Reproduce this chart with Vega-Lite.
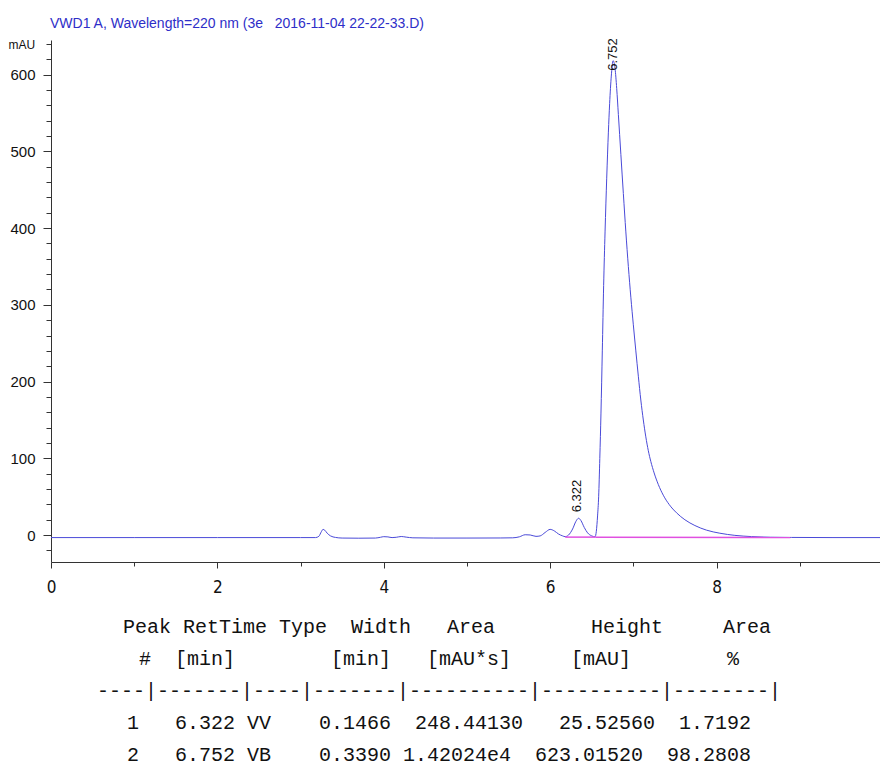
{
  "$schema": "https://vega.github.io/schema/vega-lite/v6.json",
  "width": 829,
  "height": 522,
  "autosize": {"type": "none"},
  "padding": {"left": 51, "top": 40, "right": 0, "bottom": 209},
  "background": "white",
  "title": {
    "text": "VWD1 A, Wavelength=220 nm (3e\u00a0\u00a0\u00a02016-11-04 22-22-33.D)",
    "anchor": "start",
    "frame": "group",
    "font": "Liberation Sans",
    "fontSize": 14,
    "fontWeight": "normal",
    "color": "#2e2ec8",
    "offset": 6,
    "dx": -1
  },
  "config": {"view": {"stroke": null}},
  "datasets": {
    "trace": [
      {"t": 0, "v": -3.2}, {"t": 1, "v": -3.2}, {"t": 2, "v": -3.2}, {"t": 3, "v": -3.2},
      {"t": 3.18, "v": -3.2}, {"t": 3.22, "v": -1.5}, {"t": 3.25, "v": 4.5}, {"t": 3.27, "v": 7.5},
      {"t": 3.29, "v": 6.5}, {"t": 3.32, "v": 2.5}, {"t": 3.36, "v": -1.0}, {"t": 3.42, "v": -3.0},
      {"t": 3.5, "v": -3.8}, {"t": 3.7, "v": -4.0}, {"t": 3.9, "v": -3.8}, {"t": 3.96, "v": -2.8},
      {"t": 4.0, "v": -2.0}, {"t": 4.05, "v": -2.3}, {"t": 4.1, "v": -3.2}, {"t": 4.15, "v": -2.8},
      {"t": 4.21, "v": -1.8}, {"t": 4.27, "v": -2.6}, {"t": 4.35, "v": -3.5}, {"t": 4.6, "v": -3.8},
      {"t": 5.0, "v": -3.8}, {"t": 5.4, "v": -3.7}, {"t": 5.55, "v": -3.5}, {"t": 5.63, "v": -2.2},
      {"t": 5.7, "v": 0.5}, {"t": 5.76, "v": 0.2}, {"t": 5.83, "v": -1.6}, {"t": 5.88, "v": -1.0},
      {"t": 5.94, "v": 3.5}, {"t": 6.0, "v": 7.5}, {"t": 6.05, "v": 5.5}, {"t": 6.1, "v": 1.5},
      {"t": 6.15, "v": -1.0}, {"t": 6.18, "v": -2.0}, {"t": 6.22, "v": 0.0}, {"t": 6.27, "v": 8.0},
      {"t": 6.31, "v": 18.0}, {"t": 6.342, "v": 22.0}, {"t": 6.37, "v": 19.0}, {"t": 6.41, "v": 10.0},
      {"t": 6.45, "v": 3.0}, {"t": 6.5, "v": -1.0}, {"t": 6.54, "v": -2.2}, {"t": 6.555, "v": 5},
      {"t": 6.57, "v": 25}, {"t": 6.583, "v": 50}, {"t": 6.597, "v": 100}, {"t": 6.611, "v": 159},
      {"t": 6.627, "v": 240}, {"t": 6.643, "v": 325}, {"t": 6.66, "v": 395}, {"t": 6.68, "v": 465},
      {"t": 6.7, "v": 525}, {"t": 6.715, "v": 562}, {"t": 6.735, "v": 598}, {"t": 6.757, "v": 618},
      {"t": 6.78, "v": 608}, {"t": 6.8, "v": 582}, {"t": 6.82, "v": 548}, {"t": 6.85, "v": 496},
      {"t": 6.88, "v": 445}, {"t": 6.91, "v": 395}, {"t": 6.94, "v": 350}, {"t": 6.97, "v": 310},
      {"t": 7.0, "v": 274}, {"t": 7.03, "v": 240}, {"t": 7.06, "v": 207}, {"t": 7.09, "v": 176},
      {"t": 7.12, "v": 150}, {"t": 7.15, "v": 128}, {"t": 7.18, "v": 110}, {"t": 7.21, "v": 96},
      {"t": 7.25, "v": 81}, {"t": 7.3, "v": 66}, {"t": 7.36, "v": 52}, {"t": 7.43, "v": 40},
      {"t": 7.52, "v": 29}, {"t": 7.62, "v": 20}, {"t": 7.74, "v": 12.5}, {"t": 7.88, "v": 6.5},
      {"t": 8.04, "v": 2.5}, {"t": 8.22, "v": -0.3}, {"t": 8.42, "v": -1.9}, {"t": 8.65, "v": -2.7},
      {"t": 8.9, "v": -3.0}, {"t": 9.4, "v": -3.2}, {"t": 9.965, "v": -3.2}
    ],
    "baseline": [
      {"t": 6.182, "v": -2.6, "t2": 6.543, "v2": -2.6},
      {"t": 6.543, "v": -2.6, "t2": 8.887, "v2": -3.2}
    ],
    "marks": [{"t": 6.182}, {"t": 6.543}, {"t": 8.887}],
    "peaks": [
      {"t": 6.322, "v": 22, "label": "6.322"},
      {"t": 6.752, "v": 618, "label": "6.752"}
    ],
    "table": [
      {"line": 1, "text": "Peak\u00a0RetTime\u00a0Type\u00a0\u00a0Width\u00a0\u00a0\u00a0Area\u00a0\u00a0\u00a0\u00a0\u00a0\u00a0\u00a0\u00a0Height\u00a0\u00a0\u00a0\u00a0\u00a0Area\u00a0\u00a0\u00a0"},
      {"line": 2, "text": "\u00a0\u00a0\u00a0#\u00a0\u00a0[min]\u00a0\u00a0\u00a0\u00a0\u00a0\u00a0\u00a0\u00a0[min]\u00a0\u00a0\u00a0[mAU*s]\u00a0\u00a0\u00a0\u00a0\u00a0[mAU]\u00a0\u00a0\u00a0\u00a0\u00a0\u00a0\u00a0\u00a0%\u00a0\u00a0\u00a0\u00a0"},
      {"line": 3, "text": "----|-------|----|-------|----------|----------|--------|"},
      {"line": 4, "text": "\u00a0\u00a0\u00a01\u00a0\u00a0\u00a06.322\u00a0VV\u00a0\u00a0\u00a0\u00a00.1466\u00a0\u00a0248.44130\u00a0\u00a0\u00a025.52560\u00a0\u00a01.7192\u00a0\u00a0"},
      {"line": 5, "text": "\u00a0\u00a0\u00a02\u00a0\u00a0\u00a06.752\u00a0VB\u00a0\u00a0\u00a0\u00a00.3390\u00a01.42024e4\u00a0\u00a0623.01520\u00a0\u00a098.2808\u00a0\u00a0"}
    ]
  },
  "layer": [
    {
      "encoding": {
        "x": {
          "field": "t",
          "type": "quantitative",
          "scale": {"domain": [0, 9.965], "nice": false, "zero": false},
          "axis": {
            "title": null,
            "grid": false,
            "values": [0, 0.5, 1, 1.5, 2, 2.5, 3, 3.5, 4, 4.5, 5, 5.5, 6, 6.5, 7, 7.5, 8, 8.5, 9, 9.5],
            "format": "d",
            "labelExpr": "datum.value % 2 === 0 ? datum.label : ''",
            "labelFlush": false,
            "labelOverlap": false,
            "tickSize": {"condition": {"test": "datum.value % 2 === 0", "value": 6}, "value": 4},
            "tickColor": "#333333",
            "domainColor": "#333333",
            "labelFont": "DejaVu Sans Condensed",
            "labelFontSize": 17,
            "labelColor": "#111111",
            "labelPadding": 11,
            "labelBaseline": "top"
          }
        },
        "y": {
          "field": "v",
          "type": "quantitative",
          "scale": {"domain": [-35, 645], "nice": false, "zero": false},
          "axis": {
            "title": "mAU",
            "titleAngle": 0,
            "titleAlign": "left",
            "titleBaseline": "middle",
            "titleX": -43,
            "titleY": 4,
            "titleFont": "Liberation Sans",
            "titleFontSize": 12,
            "titleFontWeight": "normal",
            "titleColor": "#111111",
            "grid": false,
            "values": [-20, 0, 20, 40, 60, 80, 100, 120, 140, 160, 180, 200, 220, 240, 260, 280, 300, 320, 340, 360, 380, 400, 420, 440, 460, 480, 500, 520, 540, 560, 580, 600, 620, 640],
            "labelExpr": "datum.value % 100 === 0 ? datum.label : ''",
            "labelOverlap": false,
            "tickSize": {"condition": {"test": "datum.value % 100 === 0", "value": 8}, "value": 5},
            "tickColor": "#333333",
            "domainColor": "#333333",
            "labelFont": "Liberation Sans",
            "labelFontSize": 15,
            "labelColor": "#111111",
            "labelPadding": 8,
            "labelBaseline": "middle"
          }
        }
      },
      "layer": [
        {
          "data": {"name": "trace"},
          "mark": {"type": "line", "color": "#4a4ad8", "strokeWidth": 1, "interpolate": "monotone"}
        },
        {
          "data": {"name": "baseline"},
          "mark": {"type": "rule", "color": "#e050e0", "strokeWidth": 1.5},
          "encoding": {
            "x2": {"field": "t2"},
            "y2": {"field": "v2"}
          }
        },
        {
          "data": {"name": "marks"},
          "mark": {"type": "rule", "color": "#333333", "strokeWidth": 1},
          "encoding": {
            "y": {"datum": -7, "type": "quantitative"},
            "y2": {"datum": 3}
          }
        },
        {
          "data": {"name": "peaks"},
          "transform": [{"filter": "datum.label === '6.322'"}],
          "mark": {"type": "text", "angle": 270, "align": "left", "baseline": "middle", "dx": 6, "font": "Liberation Sans", "fontSize": 13, "color": "#111111"},
          "encoding": {"text": {"field": "label"}}
        },
        {
          "data": {"name": "peaks"},
          "transform": [{"filter": "datum.label === '6.752'"}],
          "mark": {"type": "text", "angle": 270, "align": "left", "baseline": "middle", "dx": -10, "font": "Liberation Sans", "fontSize": 13, "color": "#111111"},
          "encoding": {"text": {"field": "label"}}
        }
      ]
    },
    {
      "data": {"name": "table"},
      "transform": [{"filter": "datum.line === 1"}],
      "mark": {"type": "text", "align": "center", "baseline": "middle", "dx": -18.5, "font": "Liberation Mono", "fontSize": 20, "color": "#111111"},
      "encoding": {
        "y": {"field": "line", "type": "quantitative", "scale": {"domain": [1, 5], "range": [587, 715]}, "axis": null},
        "text": {"field": "text"}
      }
    },
    {
      "data": {"name": "table"},
      "transform": [{"filter": "datum.line > 1"}],
      "mark": {"type": "text", "align": "center", "baseline": "middle", "dx": -26.5, "font": "Liberation Mono", "fontSize": 20, "color": "#111111"},
      "encoding": {
        "y": {"field": "line", "type": "quantitative", "scale": {"domain": [1, 5], "range": [587, 715]}, "axis": null},
        "text": {"field": "text"}
      }
    }
  ],
  "resolve": {"scale": {"y": "independent"}}
}
